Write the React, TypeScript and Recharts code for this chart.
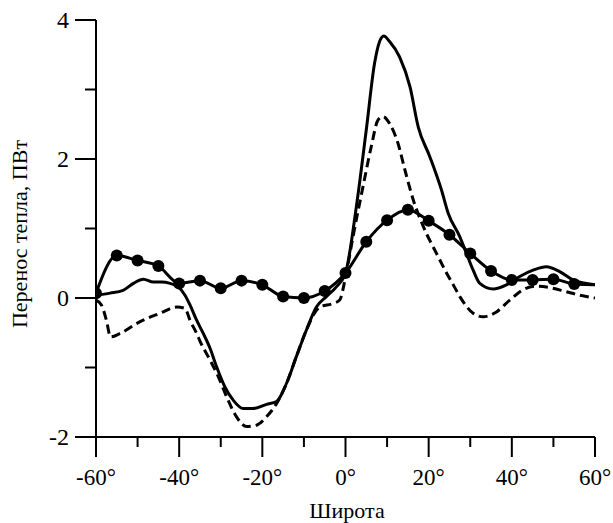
import React from 'react';
import { LineChart, Line, XAxis, YAxis, Label } from 'recharts';

const FONT = "'Liberation Serif'";

// Solid thick line
const solidLat = [-60, -56.6, -53.5, -51, -48.6, -46.2, -44.2, -42.2, -40.2, -38.6, -37.4, -35.8, -34.2, -32.6, -31, -29, -27, -24.6, -22.2, -19, -16.6, -14.2, -11.8, -9.4, -7, -4.6, -2.2, 0, 2.6, 5, 7, 8.2, 9.2, 10.6, 13, 15.5, 17.5, 20.3, 23.1, 24.7, 27.5, 29.1, 30.7, 32.3, 35.5, 38.7, 41.9, 45.1, 48.3, 51.5, 54.7, 60];
const solidVal = [0.04, 0.07, 0.11, 0.21, 0.27, 0.23, 0.23, 0.21, 0.16, 0.04, -0.10, -0.32, -0.51, -0.72, -0.99, -1.28, -1.47, -1.59, -1.59, -1.53, -1.49, -1.23, -0.84, -0.46, -0.13, 0.02, 0.16, 0.36, 1.31, 2.42, 3.38, 3.69, 3.77, 3.69, 3.47, 3.04, 2.46, 2.03, 1.55, 1.22, 0.88, 0.64, 0.40, 0.21, 0.13, 0.19, 0.31, 0.40, 0.45, 0.38, 0.26, 0.19];

// Dashed line
const dashLat = [-60, -58.7, -57.5, -56.5, -54.2, -49.4, -44.6, -40.6, -38.6, -37.4, -35.8, -35, -32.6, -30.6, -28.6, -26.2, -23.8, -21.4, -19, -16.6, -14.2, -11.8, -9.4, -6.2, -3, -1.4, 0, 1.8, 4.2, 6.2, 7.8, 9, 10.6, 12.6, 14.3, 16.3, 18.7, 21.9, 24.3, 26, 27.5, 30.7, 33.1, 36.3, 39.5, 42.7, 45.9, 49.1, 53.1, 56.3, 60];
const dashVal = [-0.03, -0.1, -0.32, -0.56, -0.51, -0.34, -0.22, -0.13, -0.15, -0.32, -0.51, -0.62, -0.89, -1.13, -1.42, -1.71, -1.85, -1.83, -1.71, -1.52, -1.23, -0.84, -0.46, -0.13, -0.08, -0.03, 0.3, 0.88, 1.6, 2.18, 2.56, 2.61, 2.51, 2.23, 1.84, 1.41, 1.03, 0.64, 0.36, 0.18, 0.02, -0.22, -0.27, -0.2, -0.03, 0.12, 0.17, 0.15, 0.09, 0.04, 0.0];

// Line with dots (markers every 5°, none at the end)
const dotLat = [-60, -55, -50, -45, -40, -35, -30, -25, -20, -15, -10, -5, 0, 5, 10, 15, 20, 25, 30, 35, 40, 45, 50, 55, 60];
const dotVal = [0.07, 0.61, 0.54, 0.46, 0.21, 0.25, 0.14, 0.25, 0.19, 0.02, 0.0, 0.1, 0.36, 0.81, 1.12, 1.27, 1.11, 0.91, 0.64, 0.39, 0.26, 0.26, 0.27, 0.2, 0.19];
const dotMarked = [true, true, true, true, true, true, true, true, true, true, true, true, true, true, true, true, true, true, true, true, true, true, true, true, false];

const xTicks = [-60, -50, -40, -30, -20, -10, 0, 10, 20, 30, 40, 50, 60];
const xMajor = [-60, -40, -20, 0, 20, 40, 60];
const yTicks = [-2, -1, 0, 1, 2, 3, 4];
const yMajor = [-2, 0, 2, 4];

const solidData = solidLat.map((x, i) => ({ x, y: solidVal[i] }));
const dashData = dashLat.map((x, i) => ({ x, y: dashVal[i] }));
const dotData = dotLat.map((x, i) => ({ x, y: dotVal[i], m: dotMarked[i] }));

const txtStyle = { fontFamily: FONT };

const XTick = (props: any) => {
  const { x, y, payload } = props;
  const v = payload.value;
  const major = xMajor.includes(v);
  return (
    <g>
      <line x1={x} y1={y} x2={x} y2={y + (major ? 20 : 10)} stroke="#000" strokeWidth={2} />
      {major && (
        <text x={x} y={y + 48} textAnchor="middle" fontSize={23} style={txtStyle} fill="#000">
          {`${v}°`}
        </text>
      )}
    </g>
  );
};

const YTick = (props: any) => {
  const { x, y, payload } = props;
  const v = payload.value;
  const major = yMajor.includes(v);
  return (
    <g>
      <line x1={x - (major ? 21 : 11)} y1={y} x2={x} y2={y} stroke="#000" strokeWidth={2} />
      {major && (
        <text x={x - 27} y={y + 8} textAnchor="end" fontSize={24} style={txtStyle} fill="#000">
          {`${v}`}
        </text>
      )}
    </g>
  );
};

const DotMark = (props: any) => {
  const { cx, cy, payload, index } = props;
  if (!payload || !payload.m) return <g key={`d${index}`} />;
  return <circle key={`d${index}`} cx={cx} cy={cy} r={6} fill="#000" stroke="none" />;
};

export default function App() {
  return (
    <div style={{ position: 'absolute', left: 0, top: 0, background: '#fff' }}>
      <LineChart width={613} height={523} margin={{ top: 20, right: 18, bottom: 0, left: 0 }}>
        <XAxis
          type="number"
          dataKey="x"
          domain={[-60, 60]}
          ticks={xTicks}
          interval={0}
          allowDataOverflow
          height={86}
          tickSize={0}
          tickMargin={0}
          tickLine={false}
          axisLine={{ stroke: '#000', strokeWidth: 2 }}
          tick={<XTick />}
        >
          <Label
            content={() => (
              <text x={347} y={518} textAnchor="middle" fontSize={22} style={txtStyle} fill="#000">
                Широта
              </text>
            )}
          />
        </XAxis>
        <YAxis
          type="number"
          dataKey="y"
          domain={[-2, 4]}
          ticks={yTicks}
          interval={0}
          allowDataOverflow
          width={96}
          tickSize={0}
          tickMargin={0}
          tickLine={false}
          axisLine={{ stroke: '#000', strokeWidth: 2 }}
          tick={<YTick />}
        >
          <Label
            content={() => (
              <text
                x={27}
                y={234}
                transform="rotate(-90 27 234)"
                textAnchor="middle"
                fontSize={22}
                style={txtStyle}
                fill="#000"
              >
                Перенос тепла, ПВт
              </text>
            )}
          />
        </YAxis>
        <Line
          data={solidData}
          dataKey="y"
          type="monotone"
          stroke="#000"
          strokeWidth={3}
          dot={false}
          isAnimationActive={false}
        />
        <Line
          data={dashData}
          dataKey="y"
          type="monotone"
          stroke="#000"
          strokeWidth={3}
          strokeDasharray="9 5"
          dot={false}
          isAnimationActive={false}
        />
        <Line
          data={dotData}
          dataKey="y"
          type="monotone"
          stroke="#000"
          strokeWidth={3}
          dot={<DotMark />}
          isAnimationActive={false}
        />
      </LineChart>
    </div>
  );
}
